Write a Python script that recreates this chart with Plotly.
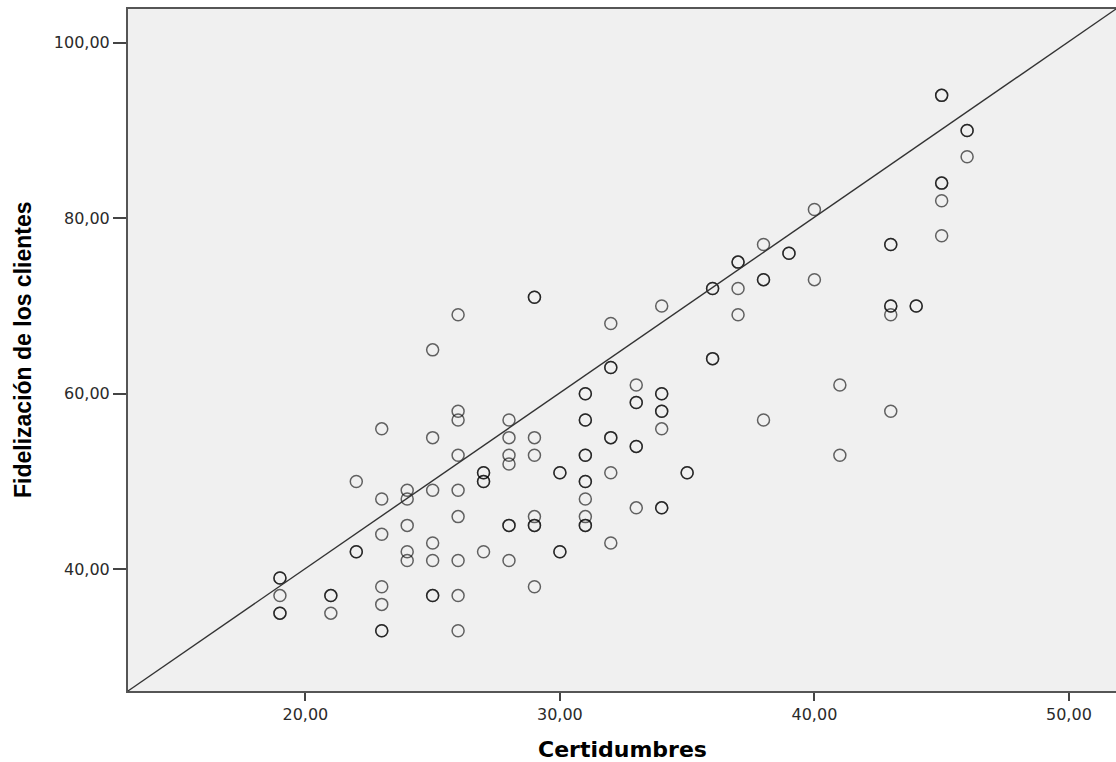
import plotly.graph_objects as go

# Certidumbres (x) and Fidelización de los clientes (y); repeated pairs = overlapping cases
certidumbres = [
    19, 19, 19, 19, 19,
    21, 21, 21,
    22, 22, 22,
    23, 23, 23, 23, 23, 23, 23,
    24, 24, 24, 24, 24,
    25, 25, 25, 25, 25, 25, 25,
    26, 26, 26, 26, 26, 26, 26, 26, 26,
    27, 27, 27, 27, 27,
    28, 28, 28, 28, 28, 28, 28,
    29, 29, 29, 29, 29, 29, 29, 29,
    30, 30, 30, 30,
    31, 31, 31, 31, 31, 31, 31, 31, 31, 31, 31, 31,
    32, 32, 32, 32, 32, 32, 32,
    33, 33, 33, 33, 33, 33,
    34, 34, 34, 34, 34, 34, 34, 34,
    35, 35,
    36, 36, 36, 36,
    37, 37, 37, 37,
    38, 38, 38, 38,
    39, 39,
    40, 40,
    41, 41,
    43, 43, 43, 43, 43, 43,
    44, 44,
    45, 45, 45, 45, 45, 45,
    46, 46, 46,
]
fidelizacion = [
    39, 39, 37, 35, 35,
    37, 37, 35,
    50, 42, 42,
    56, 48, 44, 38, 36, 33, 33,
    49, 48, 45, 42, 41,
    65, 55, 49, 43, 41, 37, 37,
    69, 58, 57, 53, 49, 46, 41, 37, 33,
    51, 51, 50, 50, 42,
    57, 55, 53, 52, 45, 45, 41,
    71, 71, 55, 53, 46, 45, 45, 38,
    51, 51, 42, 42,
    60, 60, 57, 57, 53, 53, 50, 50, 48, 46, 45, 45,
    68, 63, 63, 55, 55, 51, 43,
    61, 59, 59, 54, 54, 47,
    70, 60, 60, 58, 58, 56, 47, 47,
    51, 51,
    72, 72, 64, 64,
    75, 75, 72, 69,
    77, 73, 73, 57,
    76, 76,
    81, 73,
    61, 53,
    77, 77, 70, 70, 69, 58,
    70, 70,
    94, 94, 84, 84, 82, 78,
    90, 90, 87,
]

x_ticks = [20, 30, 40, 50]
x_tick_labels = ["20,00", "30,00", "40,00", "50,00"]
y_ticks = [40, 60, 80, 100]
y_tick_labels = ["40,00", "60,00", "80,00", "100,00"]

x_range = [13.03, 51.85]
y_range = [26.13, 103.84]

fig = go.Figure()
fig.add_trace(go.Scatter(
    x=certidumbres, y=fidelizacion, mode="markers",
    marker=dict(symbol="circle-open", size=12, color="rgba(0,0,0,0.6)",
                line=dict(width=1.5, color="rgba(0,0,0,0.6)")),
    showlegend=False, hoverinfo="x+y",
))

fig.add_shape(type="line", xref="paper", yref="paper", x0=0, y0=0, x1=1, y1=1,
              line=dict(color="#333333", width=1.4))

fig.update_layout(
    width=1116, height=762,
    margin=dict(l=128, r=0, t=9, b=71),
    paper_bgcolor="white", plot_bgcolor="#f0f0f0",
    font=dict(family="DejaVu Sans", size=16, color="#222222"),
    xaxis=dict(range=x_range, tickvals=x_ticks, ticktext=x_tick_labels,
               showgrid=False, zeroline=False, showline=True, linecolor="#555555",
               linewidth=2, mirror=True, ticks="outside", ticklen=8, tickwidth=2,
               tickcolor="#444444", tickfont=dict(size=16, family="DejaVu Sans", color="#2a2a2a")),
    yaxis=dict(range=y_range, tickvals=y_ticks, ticktext=y_tick_labels,
               showgrid=False, zeroline=False, showline=True, linecolor="#555555",
               linewidth=2, ticks="outside", ticklen=13, tickwidth=2,
               tickcolor="#444444", tickfont=dict(size=16, family="DejaVu Sans", color="#2a2a2a")),
    annotations=[
        dict(text="<b>Certidumbres</b>", xref="paper", yref="paper", x=0.5, y=0,
             yshift=-58, xanchor="center", yanchor="middle", showarrow=False,
             font=dict(family="DejaVu Sans", size=22, color="black")),
        dict(text="<b>Fidelización de los clientes</b>", xref="paper", yref="paper",
             x=0, y=0.5, xshift=-105, xanchor="center", yanchor="middle", textangle=-90,
             showarrow=False, font=dict(family="Liberation Sans", size=23, color="black")),
    ],
)

fig.write_html("out.html", config={"displayModeBar": False},
               post_script="document.body.style.margin='0';")
